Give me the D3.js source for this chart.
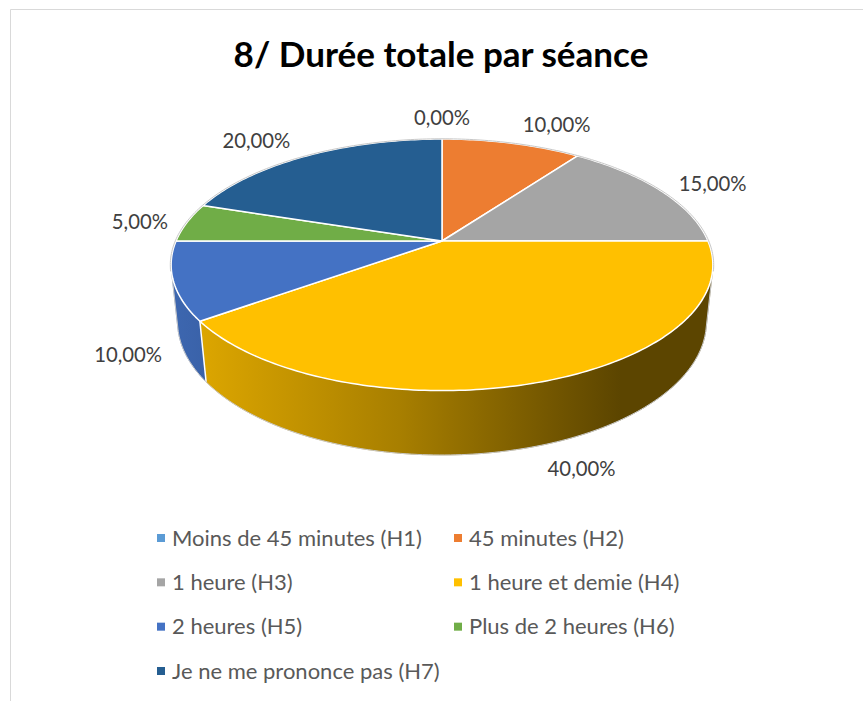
<!DOCTYPE html>
<html>
<head>
<meta charset="utf-8">
<script src="https://cdn.jsdelivr.net/npm/d3@7"></script>
<style>
  html, body { margin: 0; padding: 0; background: #fff; }
  svg { display: block; }
</style>
</head>
<body>
<svg id="chart" width="863" height="701"></svg>
<script>
// chart data
const categories = [
  "Moins de 45 minutes (H1)", "45 minutes (H2)", "1 heure (H3)",
  "1 heure et demie (H4)", "2 heures (H5)", "Plus de 2 heures (H6)",
  "Je ne me prononce pas (H7)"
];
const values = [0, 10, 15, 40, 10, 5, 20];
const colors = ["#5B9BD5", "#ED7D31", "#A5A5A5", "#FFC000", "#4472C4", "#70AD47", "#255E91"];
const title = "8/ Durée totale par séance";

const W = 863, H = 701;
const FONT = "Lato, 'Open Sans', sans-serif";
const svg = d3.select("#chart");
const defs = svg.append("defs");

// pick a font size so that a sample string has the wanted width
function fitSize(sample, target, weight) {
  const t = svg.append("text").style("font-family", FONT)
    .style("font-weight", weight || "normal").style("font-size", "20px").text(sample);
  const len = t.node().getComputedTextLength();
  t.remove();
  return 20 * target / len;
}

// frame
svg.append("path")
  .attr("d", `M10.5,${H} L10.5,9.5 L${W},9.5`)
  .attr("fill", "none").attr("stroke", "#d9d9d9").attr("stroke-width", 1);

// title
svg.append("text")
  .attr("x", 441).attr("y", 67)
  .attr("text-anchor", "middle")
  .style("font-family", FONT)
  .style("font-weight", "bold")
  .style("font-size", fitSize(title, 415, "bold").toFixed(2) + "px")
  .attr("fill", "#000")
  .text(title);

// 3D perspective projection of the pie disc
const cx = 442, cy = 241;
const R = 1, Dist = 4.7, S = 1250;
const sinE = 0.456, cosE = Math.sqrt(1 - sinE * sinE);
const thick = 0.2417;

function proj(theta, r, y) {
  const x = r * Math.sin(theta), z = -r * Math.cos(theta);
  const d = Dist - (y * sinE + z * cosE);
  return [cx + S * x / d, cy - S * (y * cosE - z * sinE) / d];
}
function arcPts(a0, a1, r, y) {
  const n = Math.max(2, Math.ceil(Math.abs(a1 - a0) / (Math.PI / 180)));
  return d3.range(n + 1).map(i => proj(a0 + (a1 - a0) * i / n, r, y));
}

const pie = d3.pie().sort(null).value(d => d)
  .startAngle(0).endAngle(2 * Math.PI);
const arcs = pie(values);

// visible range of the outer wall
const visA = Math.acos(-R / (Dist * cosE));
const visB = 2 * Math.PI - visA;

// side shading gradients (horizontal, like Excel lighting)
const shade = [[0, 0.9], [0.06, 0.86], [0.42, 0.66], [0.72, 0.44], [0.83, 0.36], [1, 0.36]];
colors.forEach((c, i) => {
  const g = defs.append("linearGradient").attr("id", "wall" + i)
    .attr("gradientUnits", "userSpaceOnUse")
    .attr("x1", 172).attr("x2", 712).attr("y1", 0).attr("y2", 0);
  const base = d3.rgb(c);
  shade.forEach(([t, f]) => {
    g.append("stop").attr("offset", t)
      .attr("stop-color", d3.rgb(base.r * f, base.g * f, base.b * f).formatHex());
  });
});

const line = d3.line();
const gPie = svg.append("g");

// outer walls
arcs.forEach((a, i) => {
  const a0 = Math.max(a.startAngle, visA), a1 = Math.min(a.endAngle, visB);
  if (a1 <= a0) return;
  const pts = arcPts(a0, a1, R, 0).concat(arcPts(a1, a0, R, -thick));
  gPie.append("path")
    .attr("d", line(pts) + "Z")
    .attr("fill", `url(#wall${i})`)
    .attr("stroke", `url(#wall${i})`).attr("stroke-width", 0.5);
});
// white separators between walls
arcs.forEach(a => {
  const t = a.startAngle;
  if (t > visA && t < visB) {
    gPie.append("path")
      .attr("d", line([proj(t, R, 0), proj(t, R, -thick)]))
      .attr("stroke", "#fff").attr("stroke-width", 1.5);
  }
});
// wall outline
gPie.append("path")
  .attr("d", line([proj(visA, R, 0)].concat(arcPts(visA, visB, R, -thick), [proj(visB, R, 0)])))
  .attr("fill", "none").attr("stroke", "#c8c8c8").attr("stroke-width", 1);

// top faces
arcs.forEach((a, i) => {
  if (a.endAngle - a.startAngle <= 0) return;
  const pts = [proj(0, 0, 0)].concat(arcPts(a.startAngle, a.endAngle, R, 0));
  gPie.append("path")
    .attr("d", line(pts) + "Z")
    .attr("fill", colors[i])
    .attr("stroke", "#fff").attr("stroke-width", 1.5)
    .attr("stroke-linejoin", "round");
});
// back rim outline
gPie.append("path")
  .attr("d", line(arcPts(visB - 2 * Math.PI, visA, R * 1.003, 0)))
  .attr("fill", "none").attr("stroke", "#c8c8c8").attr("stroke-width", 1);

// data labels (outside end)
const fmt = v => v.toFixed(2).replace(".", ",") + "%";
const labelSize = fitSize("15,00%", 68);
const gLab = svg.append("g")
  .style("font-family", FONT)
  .style("font-size", labelSize.toFixed(2) + "px")
  .attr("fill", "#404040");
arcs.forEach((a, i) => {
  const mid = (a.startAngle + a.endAngle) / 2;
  const front = Math.cos(mid) < 0;
  const p = proj(mid, R, front ? -thick : 0);
  let vx = p[0] - cx, vy = p[1] - cy;
  const n = Math.hypot(vx, vy); vx /= n; vy /= n;
  const t = gLab.append("text").attr("text-anchor", "middle").text(fmt(values[i]));
  const bb = t.node().getBBox();
  const hw = bb.width / 2, hh = 10, gapX = 19, gapY = 13;
  const clamp = v => Math.max(-1, Math.min(1, v));
  const x = p[0] + vx * gapX + hw * clamp(vx * 2.5);
  const y = p[1] + vy * gapY + hh * clamp(vy * 2.5) + 2;
  t.attr("x", x).attr("y", y).attr("dy", "0.35em");
});

// legend
const legendSize = fitSize(categories[0], 250);
const gLeg = svg.append("g")
  .style("font-family", FONT)
  .style("font-size", legendSize.toFixed(2) + "px")
  .attr("fill", "#595959");
const colX = [157, 454];
const rowY = d3.scaleLinear().domain([0, 3]).range([538, 671]);
categories.forEach((c, i) => {
  const x = colX[i % 2], y = rowY(Math.floor(i / 2));
  gLeg.append("rect").attr("x", x).attr("y", y - 4).attr("width", 8).attr("height", 8)
    .attr("fill", colors[i]);
  gLeg.append("text").attr("x", x + 15).attr("y", y).attr("dy", "0.35em").text(c);
});
</script>
</body>
</html>
